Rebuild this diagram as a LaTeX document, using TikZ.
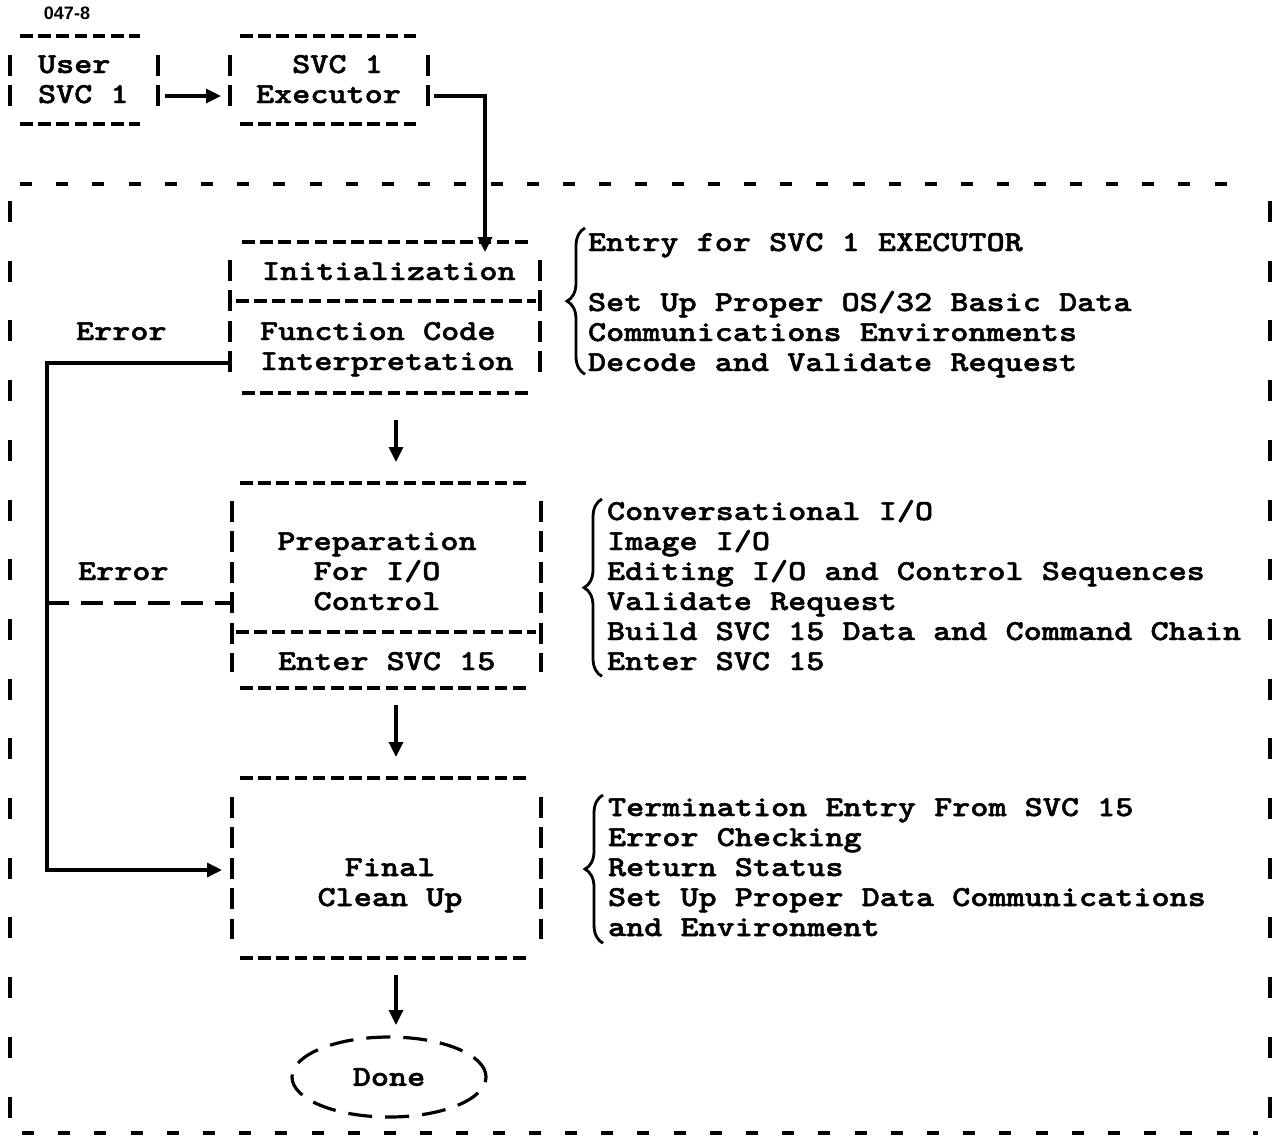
\documentclass[tikz,border=0pt]{standalone}
\usepackage{fontspec}
\newfontfamily\twfont{lmmonolt10-bold}[Extension=.otf, FakeStretch=1.19, FakeBold=1.6]
\newfontfamily\figfont{Liberation Sans}
\usetikzlibrary{arrows.meta,shapes.geometric,decorations.pathreplacing}
\begin{document}
\begin{tikzpicture}[x=1pt,y=-1pt,
  tw/.style={font=\twfont\fontsize{29}{30}\selectfont, inner sep=0pt, outer sep=0pt},
  area/.style={inner sep=0pt, outer sep=0pt},
  hdash/.style={line width=3.2pt, dash pattern=on 12.5pt off 5.7pt},
  vbar/.style={line width=3.2pt, dash pattern=on 21pt off 9.4pt},
  framedash/.style={line width=3.2pt, dash pattern=on 12pt off 24.2pt},
  framebar/.style={line width=3.2pt, dash pattern=on 21pt off 38.7pt},
  conn/.style={line width=3.3pt, -{Triangle[length=15pt,width=14pt]}},
  errdash/.style={line width=3.3pt, dash pattern=on 22pt off 11.5pt},
  doneline/.style={line width=3.2pt, dash pattern=on 24pt off 13pt},
  bracestyle/.style={line width=2.8pt, decorate, decoration={brace, amplitude=18pt}}]

\useasboundingbox (0,0) rectangle (1276,1136);
\fill[white] (0,0) rectangle (1276,1136);

% figure number
\node[font=\figfont\bfseries\fontsize{18}{18}\selectfont, inner sep=0pt] (fig) at (67,13) {047-8};

% box areas
\node[area, minimum width=148pt, minimum height=89pt] (user) at (84,80.5) {};
\node[area, minimum width=198pt, minimum height=89pt] (exec) at (329,80.5) {};
\node[area, minimum width=310pt, minimum height=151pt] (init) at (385,317.5) {};
\node[area, minimum width=309pt, minimum height=205pt] (prep) at (386.5,585.5) {};
\node[area, minimum width=309pt, minimum height=180pt] (final) at (386.5,868) {};
\node[ellipse, draw, doneline, tw, minimum width=194pt, minimum height=80pt] (done) at (389,1077) {Done};

% box borders (typewriter style)
\draw[hdash] (20,36) -- (140,36) (20,124) -- (140,124);
\draw[vbar] (10,55) -- (10,107) (158,55) -- (158,107);
\draw[hdash] (240,36) -- (418,36) (240,124) -- (418,124);
\draw[vbar] (230,55) -- (230,107) (428,55) -- (428,107);

\draw[hdash] (242,242) -- (528,242) (242,393) -- (528,393) (236,301) -- (536,301);
\draw[vbar] (230,260) -- (230,374) (540,260) -- (540,374);

\draw[hdash] (240,483) -- (528,483) (240,688) -- (528,688) (236,632) -- (536,632);
\draw[vbar] (232,501) -- (232,672) (541,501) -- (541,672);

\draw[hdash] (240,778) -- (528,778) (240,958) -- (528,958);
\draw[vbar] (232,797) -- (232,939) (541,797) -- (541,939);

% outer frame
\draw[framedash] (20,184) -- (1245,184);
\draw[framedash] (22,1133) -- (1258,1133);
\draw[framebar] (10,201) -- (10,1120);
\draw[framebar] (1270,201) -- (1270,1120);

% texts
\node[tw, anchor=north west, align=left] (userlbl) at (38,52) {\strut User\\SVC 1};
\node[tw, anchor=north west, align=left] (execlbl) at (256,52) {\strut\hphantom{xx}SVC 1\\Executor};
\node[tw, anchor=base west] (initlbl) at (262,280) {Initialization};
\node[tw, anchor=north west, align=left] (fclbl) at (260,319) {\strut Function Code\\Interpretation};
\node[tw, anchor=north, align=center] (preplbl) at (377,529) {\strut Preparation\\For I/O\\Control};
\node[tw, anchor=base west] (enterlbl) at (278,670) {Enter SVC 15};
\node[tw, anchor=north, align=center] (finallbl) at (390,855) {\strut Final\\Clean Up};
\node[tw, anchor=base west] (err1) at (76,340) {Error};
\node[tw, anchor=base west] (err2) at (78,580) {Error};

\node[tw, anchor=north west, align=left] (desc1) at (588,230) {\strut Entry for SVC 1 EXECUTOR\\\strut\\Set Up Proper OS/32 Basic Data\\Communications Environments\\Decode and Validate Request};
\node[tw, anchor=north west, align=left] (desc2) at (607,499) {\strut Conversational I/O\\Image I/O\\Editing I/O and Control Sequences\\Validate Request\\Build SVC 15 Data and Command Chain\\Enter SVC 15};
\node[tw, anchor=north west, align=left] (desc3) at (608,795) {\strut Termination Entry From SVC 15\\Error Checking\\Return Status\\Set Up Proper Data Communications\\and Environment};

% braces
\draw[bracestyle] ([xshift=-3pt,yshift=3pt]desc1.south west) -- ([xshift=-3pt,yshift=2pt]desc1.north west);
\draw[bracestyle] ([xshift=-5pt,yshift=-6pt]desc2.south west) -- ([xshift=-5pt,yshift=0pt]desc2.north west);
\draw[bracestyle] ([xshift=-5pt,yshift=-7pt]desc3.south west) -- ([xshift=-5pt,yshift=0pt]desc3.north west);

% connectors
\draw[conn] ([xshift=7pt,yshift=-15.5pt]user.east) -- ([xshift=-9pt,yshift=-15.5pt]exec.west);
\draw[conn] ([xshift=6pt,yshift=-15.5pt]exec.east) -| ([xshift=-55pt,yshift=-10pt]init.north east);
\coordinate (errbus) at (47,603);
\draw[conn] ([xshift=-1pt,yshift=-45.5pt]init.west) -| (errbus) |- ([xshift=-10pt,yshift=-2pt]final.west);
\draw[errdash] (errbus) -- ([xshift=-2pt,yshift=-17.5pt]prep.west);
\draw[conn] ([xshift=11pt,yshift=-27pt]init.south) -- ([xshift=9.5pt,yshift=21pt]prep.north);
\draw[conn] ([xshift=9.5pt,yshift=-17pt]prep.south) -- ([xshift=9.5pt,yshift=21pt]final.north);
\draw[conn] ([xshift=9.5pt,yshift=-17pt]final.south) -- ([xshift=7pt,yshift=12pt]done.north);
\end{tikzpicture}
\end{document}
